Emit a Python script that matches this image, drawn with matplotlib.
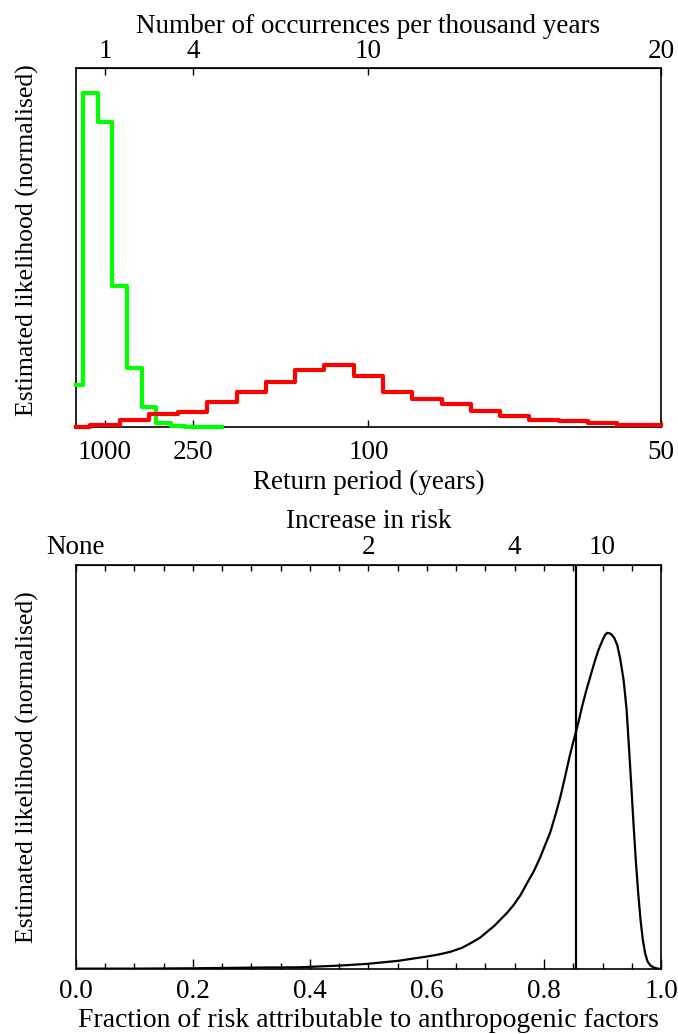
import numpy as np
import matplotlib
matplotlib.use("Agg")
import matplotlib.pyplot as plt
from matplotlib.ticker import MultipleLocator, FixedLocator

# ---------- data: top panel (histograms vs occurrences per 1000 years) ----------
green_x = [0.0, 0.5, 1.0, 1.5, 2.0, 2.5, 3.0, 3.5, 4.0, 4.5, 5.0]
green_y = [0.126, 1.0, 0.912, 0.422, 0.176, 0.059, 0.013, 0.002, 0.001, 0.001, 0.001]

red_x = list(range(0, 21))
red_y = [0.001, 0.006, 0.021, 0.039, 0.044, 0.076, 0.105, 0.135, 0.171, 0.186,
         0.153, 0.105, 0.084, 0.069, 0.048, 0.033, 0.021, 0.018, 0.012, 0.006, 0.006]

occurrence_ticks = [1, 4, 10, 20]
return_period_labels = ["1000", "250", "100", "50"]

# ---------- data: bottom panel (fraction attributable risk) ----------
far_x = [0.0, 0.1, 0.2, 0.3, 0.383, 0.45, 0.497, 0.55, 0.60, 0.62, 0.640,
         0.66, 0.674, 0.69, 0.703, 0.715, 0.725, 0.737, 0.748, 0.76, 0.771,
         0.783, 0.794, 0.802, 0.811, 0.82, 0.828, 0.836, 0.844, 0.851, 0.858,
         0.865, 0.872, 0.879, 0.886, 0.893, 0.900, 0.904, 0.908, 0.912, 0.916,
         0.920, 0.925, 0.930, 0.936, 0.941, 0.945, 0.949, 0.953, 0.957, 0.961,
         0.965, 0.969, 0.973, 0.977, 0.982, 0.988, 0.994, 1.0]
far_y = [0.001, 0.001, 0.002, 0.004, 0.005, 0.010, 0.015, 0.024, 0.037, 0.043, 0.051,
         0.063, 0.076, 0.092, 0.111, 0.128, 0.146, 0.167, 0.190, 0.220, 0.255,
         0.292, 0.334, 0.369, 0.408, 0.461, 0.512, 0.572, 0.634, 0.682, 0.728,
         0.780, 0.827, 0.869, 0.911, 0.949, 0.978, 0.993, 1.0, 0.999, 0.994,
         0.985, 0.965, 0.925, 0.860, 0.775, 0.665, 0.550, 0.430, 0.320, 0.225,
         0.145, 0.085, 0.045, 0.022, 0.010, 0.004, 0.001, 0.0]
best_estimate = 0.855

risk_ratios = [1, 2, 4, 10]
risk_labels = ["None", "2", "4", "10"]

plt.rcParams["font.family"] = ["Liberation Serif", "DejaVu Serif"]
plt.rcParams["font.size"] = 19.5

fig = plt.figure(figsize=(6.78, 10.34), dpi=100)

# ---------- top panel ----------
ax1 = fig.add_axes([0.1117, 0.587, 0.8633, 0.3472])
ax1.step(green_x, green_y, where="mid", color="#00ff00", lw=3.0, clip_on=False, zorder=3)
ax1.step(red_x, red_y, where="mid", color="#ff0000", lw=3.0, clip_on=False, zorder=3)
ax1.set_xlim(0, 20)
ax1.set_ylim(0, 1.075)
ax1.set_yticks([])
ax1.set_xticks(occurrence_ticks)
ax1.set_xticklabels(return_period_labels)
ax1.tick_params(axis="x", direction="in", length=5, width=1, pad=9)
ax1.set_xlabel("Return period (years)", labelpad=4)
ax1.set_ylabel("Estimated likelihood (normalised)", fontsize=18.5)
ax1.yaxis.set_label_coords(-0.062, 0.52)

top1 = ax1.secondary_xaxis("top")
top1.set_xticks(occurrence_ticks)
top1.set_xticklabels([str(t) for t in occurrence_ticks])
top1.tick_params(direction="in", length=5, width=1, pad=3)
top1.set_xlabel("Number of occurrences per thousand years", labelpad=4)

# ---------- bottom panel ----------
ax2 = fig.add_axes([0.1117, 0.0629, 0.8633, 0.3907])
ax2.plot(far_x, far_y, color="black", lw=1.6)
ax2.axvline(best_estimate, color="black", lw=1.6)
ax2.set_xlim(0, 1)
ax2.set_ylim(0, 1.202)
ax2.set_yticks([])
ax2.xaxis.set_major_locator(MultipleLocator(0.2))
ax2.xaxis.set_minor_locator(MultipleLocator(0.05))
ax2.xaxis.set_major_formatter(lambda v, p: f"{v:.1f}")
ax2.tick_params(axis="x", which="major", direction="in", length=7, width=1, pad=7)
ax2.tick_params(axis="x", which="minor", direction="in", length=4, width=1)
ax2.set_xlabel("Fraction of risk attributable to anthropogenic factors",
               fontsize=20, labelpad=3)
ax2.set_ylabel("Estimated likelihood (normalised)", fontsize=18.5)
ax2.yaxis.set_label_coords(-0.062, 0.50)

top2 = ax2.secondary_xaxis("top")
top2.xaxis.set_major_locator(FixedLocator([1 - 1 / r for r in risk_ratios]))
top2.set_xticklabels(risk_labels)
top2.xaxis.set_minor_locator(MultipleLocator(0.05))
top2.tick_params(which="both", direction="in", length=4, width=1, pad=3.5)
top2.set_xlabel("Increase in risk", labelpad=5)

for ax in (ax1, ax2):
    for s in ax.spines.values():
        s.set_linewidth(1.2)

fig.savefig("out.png", dpi=100)
